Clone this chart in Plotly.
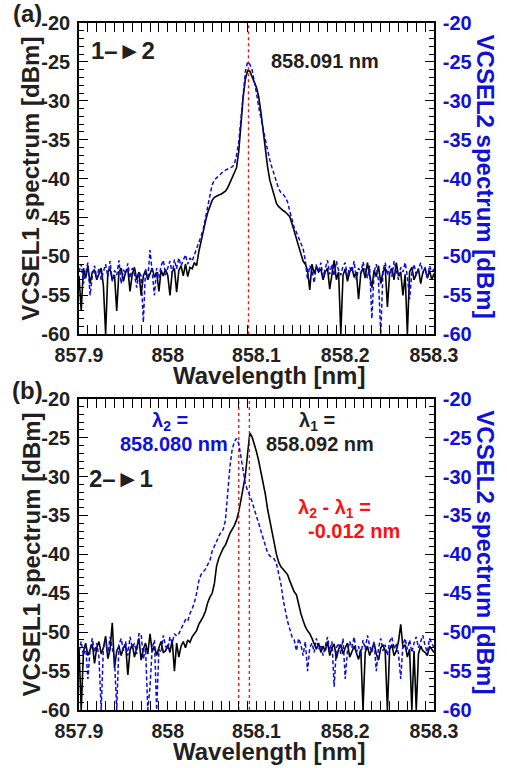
import plotly.graph_objects as go

# ---------------- data ----------------
WAVELENGTH_NM = [round(857.9 + 0.0025 * i, 4) for i in range(161)]

# panel (a): 1 -> 2
VCSEL1_A = [
    -52.5, -57.0, -51.5, -52.8, -51.2, -53.5, -52.0, -51.8, -53.0, -52.2,
    -51.5, -53.8, -60.0, -52.0, -51.6, -53.0, -52.4, -57.0, -52.0, -51.5,
    -53.2, -52.0, -51.6, -54.5, -52.3, -51.4, -53.0, -52.0, -55.0, -52.5,
    -51.8, -53.0, -52.2, -51.5, -52.7, -52.0, -54.5, -51.8, -52.5, -51.7,
    -52.4, -55.0, -52.0, -51.5, -54.6, -51.8, -51.2, -52.5, -51.0, -52.6,
    -51.4, -51.6, -50.8, -51.2, -49.4, -48.0, -46.8, -45.5, -44.4, -43.6,
    -42.8, -42.4, -42.2, -42.1, -42.0, -41.8, -41.6, -41.2, -40.6, -40.0,
    -39.4, -38.6, -36.5, -32.5, -29.5, -27.2, -26.1, -26.2, -26.8, -27.6,
    -28.3, -29.5, -31.5, -34.0, -36.5, -38.5, -40.2, -41.3, -42.4, -43.2,
    -43.6, -43.9, -44.1, -44.3, -44.6, -44.9, -45.8, -46.8, -47.5, -48.5,
    -49.5, -50.6, -51.0, -51.8, -54.3, -51.0, -52.2, -51.4, -52.0, -51.6,
    -53.0, -52.0, -51.5, -54.2, -52.3, -50.5, -53.0, -52.0, -60.0, -52.4,
    -51.6, -53.2, -52.0, -51.4, -52.7, -52.0, -55.5, -52.2, -51.5, -52.8,
    -50.8, -52.4, -54.0, -51.8, -52.6, -51.2, -53.5, -52.0, -51.4, -56.5,
    -52.2, -51.5, -53.0, -50.8, -52.5, -52.0, -55.0, -52.3, -60.0, -52.0,
    -51.4, -53.0, -52.2, -51.6, -53.5, -52.0, -51.5, -52.8, -51.8, -53.0,
    -52.2,
]
VCSEL2_A = [
    -52.0, -51.0, -53.5, -52.0, -50.8, -55.0, -52.5, -51.2, -52.8, -51.5,
    -53.0, -52.0, -51.0, -52.6, -50.6, -53.2, -51.8, -52.4, -50.5, -53.5,
    -51.7, -52.2, -50.9, -52.8, -51.5, -52.3, -54.0, -52.0, -52.5, -58.5,
    -51.6, -53.0, -49.2, -52.0, -55.0, -51.5, -52.8, -51.2, -50.5, -52.4,
    -51.4, -50.6, -52.2, -50.4, -51.6, -50.2, -51.2, -50.6, -49.8, -51.0,
    -50.2, -50.6, -49.8, -49.2, -48.4, -47.4, -46.5, -45.2, -43.8, -42.2,
    -40.8, -40.2, -39.9, -39.6, -39.3, -39.1, -38.9, -38.8, -38.7, -38.5,
    -38.2, -37.0, -35.3, -32.5, -28.8, -26.2, -25.0, -25.3, -26.0, -27.3,
    -29.0, -30.8, -32.4, -33.6, -35.0, -36.4, -37.6, -38.6, -39.6, -40.6,
    -41.3, -41.8, -42.0, -42.4, -43.0, -44.2, -45.4, -46.3, -46.9, -47.6,
    -48.4, -49.0, -50.5, -53.0, -51.2, -51.8, -53.4, -51.0, -52.0, -50.8,
    -52.6, -51.4, -50.5, -52.3, -51.0, -52.5, -50.6, -51.8, -52.4, -51.2,
    -50.8, -52.6, -51.4, -52.0, -50.6, -53.0, -51.5, -52.2, -50.7, -51.8,
    -52.8, -51.2, -58.0, -52.0, -51.0, -53.2, -60.0, -51.8, -50.8, -52.4,
    -51.2, -52.6, -50.6, -51.8, -53.0, -51.4, -52.0, -50.8, -52.6, -55.5,
    -52.2, -51.0, -52.4, -51.6, -50.8, -52.2, -51.4, -52.8, -51.2, -52.0,
    -51.6,
]

# panel (b): 2 -> 1
VCSEL1_B = [
    -52.0, -60.0, -52.5, -51.4, -53.0, -52.2, -51.5, -54.0, -52.0, -51.2,
    -52.8, -52.0, -50.5, -53.4, -52.2, -48.8, -54.6, -52.4, -51.8, -53.0,
    -52.0, -51.5, -55.5, -52.3, -51.6, -53.2, -52.0, -50.8, -53.6, -52.2,
    -51.4, -52.8, -50.2, -52.5, -51.8, -53.0, -52.0, -51.2, -52.6, -52.4,
    -51.6, -52.6, -51.0, -55.0, -51.4, -53.2, -51.8, -51.2, -52.0, -51.0,
    -51.3, -50.6, -50.2, -49.8, -49.0, -48.5, -48.0, -47.3, -46.2, -45.5,
    -45.0, -43.8, -41.5, -40.5, -39.8, -39.2, -38.8, -38.0, -37.3, -36.8,
    -36.3, -35.6, -34.5, -33.0, -31.5, -29.8, -27.0, -24.4, -24.9, -25.8,
    -26.8, -28.0, -29.5, -30.5, -32.3, -34.2, -35.7, -37.2, -38.8, -40.0,
    -41.0, -41.6, -41.9, -42.2, -42.6, -43.4, -44.2, -44.8, -45.2, -46.5,
    -47.6, -48.5, -49.3, -49.8, -50.2, -50.8, -51.5, -52.2, -51.4, -52.6,
    -51.8, -52.4, -51.2, -53.0, -52.0, -51.5, -53.4, -52.2, -51.6, -52.8,
    -52.0, -51.4, -53.2, -52.4, -51.8, -52.6, -53.5, -52.2, -60.0, -52.6,
    -51.8, -53.0, -52.2, -51.4, -52.8, -53.6, -52.0, -51.6, -52.4, -60.0,
    -52.2, -51.6, -53.0, -52.4, -51.2, -49.0, -52.0, -51.6, -53.2, -52.2,
    -60.0, -52.4, -60.0, -52.8, -51.8, -52.4, -52.6, -53.0, -51.8, -52.2,
    -52.6,
]
VCSEL2_B = [
    -52.5, -51.2, -53.0, -51.8, -56.0, -52.2, -50.8, -52.6, -51.4, -53.2,
    -60.0, -52.0, -51.0, -52.8, -50.6, -52.2, -53.5, -60.0, -51.6, -50.8,
    -52.4, -51.2, -53.0, -50.6, -52.0, -51.4, -52.8, -50.2, -50.2, -53.5,
    -52.0, -60.0, -57.0, -52.0, -51.0, -60.0, -52.2, -52.6, -50.4, -51.8,
    -52.2, -50.6, -51.4, -50.2, -50.5, -50.2, -49.6, -49.0, -48.4, -48.6,
    -47.6, -47.0, -46.2, -45.0, -43.4, -42.6, -42.3, -41.9, -41.3, -40.8,
    -39.6, -38.9, -38.3, -37.7, -37.1, -36.8, -35.6, -32.0, -28.8, -26.6,
    -25.5, -25.1, -25.8, -27.5, -29.5, -31.0, -31.8, -32.5, -33.2, -34.2,
    -35.0, -36.0, -37.0, -38.0, -39.0, -39.8, -40.2, -40.4, -40.6, -41.2,
    -42.5, -43.8, -45.8, -47.4, -48.6, -49.6, -50.6, -51.0, -52.4, -50.8,
    -51.6, -53.0, -51.2, -55.0, -52.0, -51.4, -52.6, -50.8, -52.2, -51.6,
    -53.0, -51.8, -50.6, -52.4, -51.2, -57.0, -52.0, -51.4, -52.8, -50.8,
    -56.0, -52.4, -51.2, -52.0, -50.6, -52.6, -51.8, -53.2, -51.0, -52.2,
    -50.4, -51.8, -52.6, -51.2, -55.0, -52.0, -50.8, -52.4, -51.6, -53.0,
    -51.2, -50.6, -52.2, -51.4, -52.8, -56.0, -51.6, -50.8, -52.2, -51.0,
    -52.6, -51.4, -50.6, -52.0, -51.2, -50.4, -51.8, -52.6, -50.8, -51.4,
    -52.0,
]

PEAK_A = [858.091]            # marked wavelength, panel (a)
PEAKS_B = [858.080, 858.092]  # lambda2, lambda1, panel (b)

X_TICKS = [857.9, 858.0, 858.1, 858.2, 858.3]
X_TICK_TEXT = ["857.9", "858", "858.1", "858.2", "858.3"]
Y_TICKS = [-60, -55, -50, -45, -40, -35, -30, -25, -20]
Y_TICK_TEXT = ["-60", "-55", "-50", "-45", "-40", "-35", "-30", "-25", "-20"]
X_RANGE = [857.9, 858.3]
Y_RANGE = [-60, -20]

# ---------------- style ----------------
FONT = "Liberation Sans"
DARK = "#231f20"
BLUE = "#1010d8"
LINE_BLUE = "#0a0ae0"
RED = "#ff1010"

fig = go.Figure()


def add_panel(xa, ya_left, ya_right, v1, v2, peaks):
    fig.add_trace(go.Scatter(x=WAVELENGTH_NM, y=v1, mode="lines", xaxis=xa, yaxis=ya_left,
                             line=dict(color="black", width=1.6), showlegend=False))
    fig.add_trace(go.Scatter(x=WAVELENGTH_NM, y=v2, mode="lines", xaxis=xa, yaxis=ya_right,
                             line=dict(color=LINE_BLUE, width=1.5, dash="4px,2.5px"), showlegend=False))
    for p in peaks:
        fig.add_trace(go.Scatter(x=[p, p], y=Y_RANGE, mode="lines", xaxis=xa, yaxis=ya_left,
                                 line=dict(color=RED, width=1.4, dash="dot"), showlegend=False))


add_panel("x", "y", "y2", VCSEL1_A, VCSEL2_A, PEAK_A)
add_panel("x2", "y3", "y4", VCSEL1_B, VCSEL2_B, PEAKS_B)

xcommon = dict(range=X_RANGE, tickmode="array", tickvals=X_TICKS, ticktext=X_TICK_TEXT,
               ticks="inside", ticklen=9, tickwidth=1.3, tickcolor="black",
               minor=dict(dtick=0.01, tick0=857.9, ticks="inside", ticklen=5, tickwidth=1, tickcolor="black"),
               showline=True, linewidth=1.6, linecolor="black", mirror="allticks",
               showgrid=False, zeroline=False, ticklabelstandoff=3,
               tickfont=dict(family=FONT, size=19.5, color=DARK, weight="bold"))
yleft = dict(range=Y_RANGE, tickmode="array", tickvals=Y_TICKS, ticktext=Y_TICK_TEXT,
             ticks="inside", ticklen=9, tickwidth=1.3, tickcolor="black",
             minor=dict(dtick=1, tick0=-60, ticks="inside", ticklen=5, tickwidth=1, tickcolor="black"),
             showline=True, linewidth=1.6, linecolor="black", mirror=True,
             showgrid=False, zeroline=False, ticklabelstandoff=3,
             tickfont=dict(family=FONT, size=20, color=DARK, weight="bold"))
yright = dict(range=Y_RANGE, tickmode="array", tickvals=Y_TICKS, ticktext=Y_TICK_TEXT,
              ticks="inside", ticklen=9, tickwidth=1.3, tickcolor="black",
              minor=dict(dtick=1, tick0=-60, ticks="inside", ticklen=5, tickwidth=1, tickcolor="black"),
              showline=True, linewidth=1.6, linecolor="black", side="right",
              showgrid=False, zeroline=False, ticklabelstandoff=3,
              tickfont=dict(family=FONT, size=20, color=BLUE, weight="bold"))

TOP = [0.547, 1.0]
BOT = [0.0, 0.453]

fig.update_layout(
    width=507, height=768,
    margin=dict(l=79, r=73, t=19, b=58),
    paper_bgcolor="white", plot_bgcolor="white",
    xaxis=dict(xcommon, anchor="y", domain=[0, 1]),
    yaxis=dict(yleft, anchor="x", domain=TOP),
    yaxis2=dict(yright, anchor="x", overlaying="y"),
    xaxis2=dict(xcommon, anchor="y3", domain=[0, 1]),
    yaxis3=dict(yleft, anchor="x2", domain=BOT),
    yaxis4=dict(yright, anchor="x2", overlaying="y3"),
)


def ann(text, x, y, xref, yref, size=20, color=DARK, xanchor="center", yanchor="middle", angle=0):
    fig.add_annotation(text=text, x=x, y=y, xref=xref, yref=yref, showarrow=False,
                       xanchor=xanchor, yanchor=yanchor, textangle=angle,
                       font=dict(family=FONT, size=size, color=color, weight="bold"))


for xr, yr in (("x domain", "y domain"), ("x2 domain", "y3 domain")):
    ann("Wavelength [nm]", 0.811, -0.132, xr, yr, size=24, xanchor="right")
    ann("VCSEL1 spectrum [dBm]", -0.135, 0.5, xr, yr, size=24, angle=-90)
    ann("VCSEL2 spectrum [dBm]", 1.145, 0.505, xr, yr, size=24, color=BLUE, angle=90)

ann("(a)", -0.144, 1.032, "x domain", "y domain", size=24)
ann("(b)", -0.144, 1.026, "x2 domain", "y3 domain", size=24)

ann("1\u2013\u25BA2", 0.125, 0.911, "x domain", "y domain", size=24)
ann("858.091 nm", 0.693, 0.879, "x domain", "y domain", size=20)

ann("2\u2013\u25BA1", 0.118, 0.744, "x2 domain", "y3 domain", size=24)
ann("\u03bb<sub>2</sub> =", 0.256, 0.927, "x2 domain", "y3 domain", size=20, color=BLUE)
ann("858.080 nm", 0.268, 0.856, "x2 domain", "y3 domain", size=20, color=BLUE)
ann("\u03bb<sub>1</sub> =", 0.670, 0.927, "x2 domain", "y3 domain", size=20)
ann("858.092 nm", 0.679, 0.856, "x2 domain", "y3 domain", size=20)
ann("\u03bb<sub>2</sub> - \u03bb<sub>1</sub> =", 0.720, 0.649, "x2 domain", "y3 domain", size=20, color=RED)
ann("-0.012 nm", 0.776, 0.575, "x2 domain", "y3 domain", size=20, color=RED)

fig.write_html("out.html", config={"displayModeBar": False},
               post_script="document.body.style.margin='0';")
